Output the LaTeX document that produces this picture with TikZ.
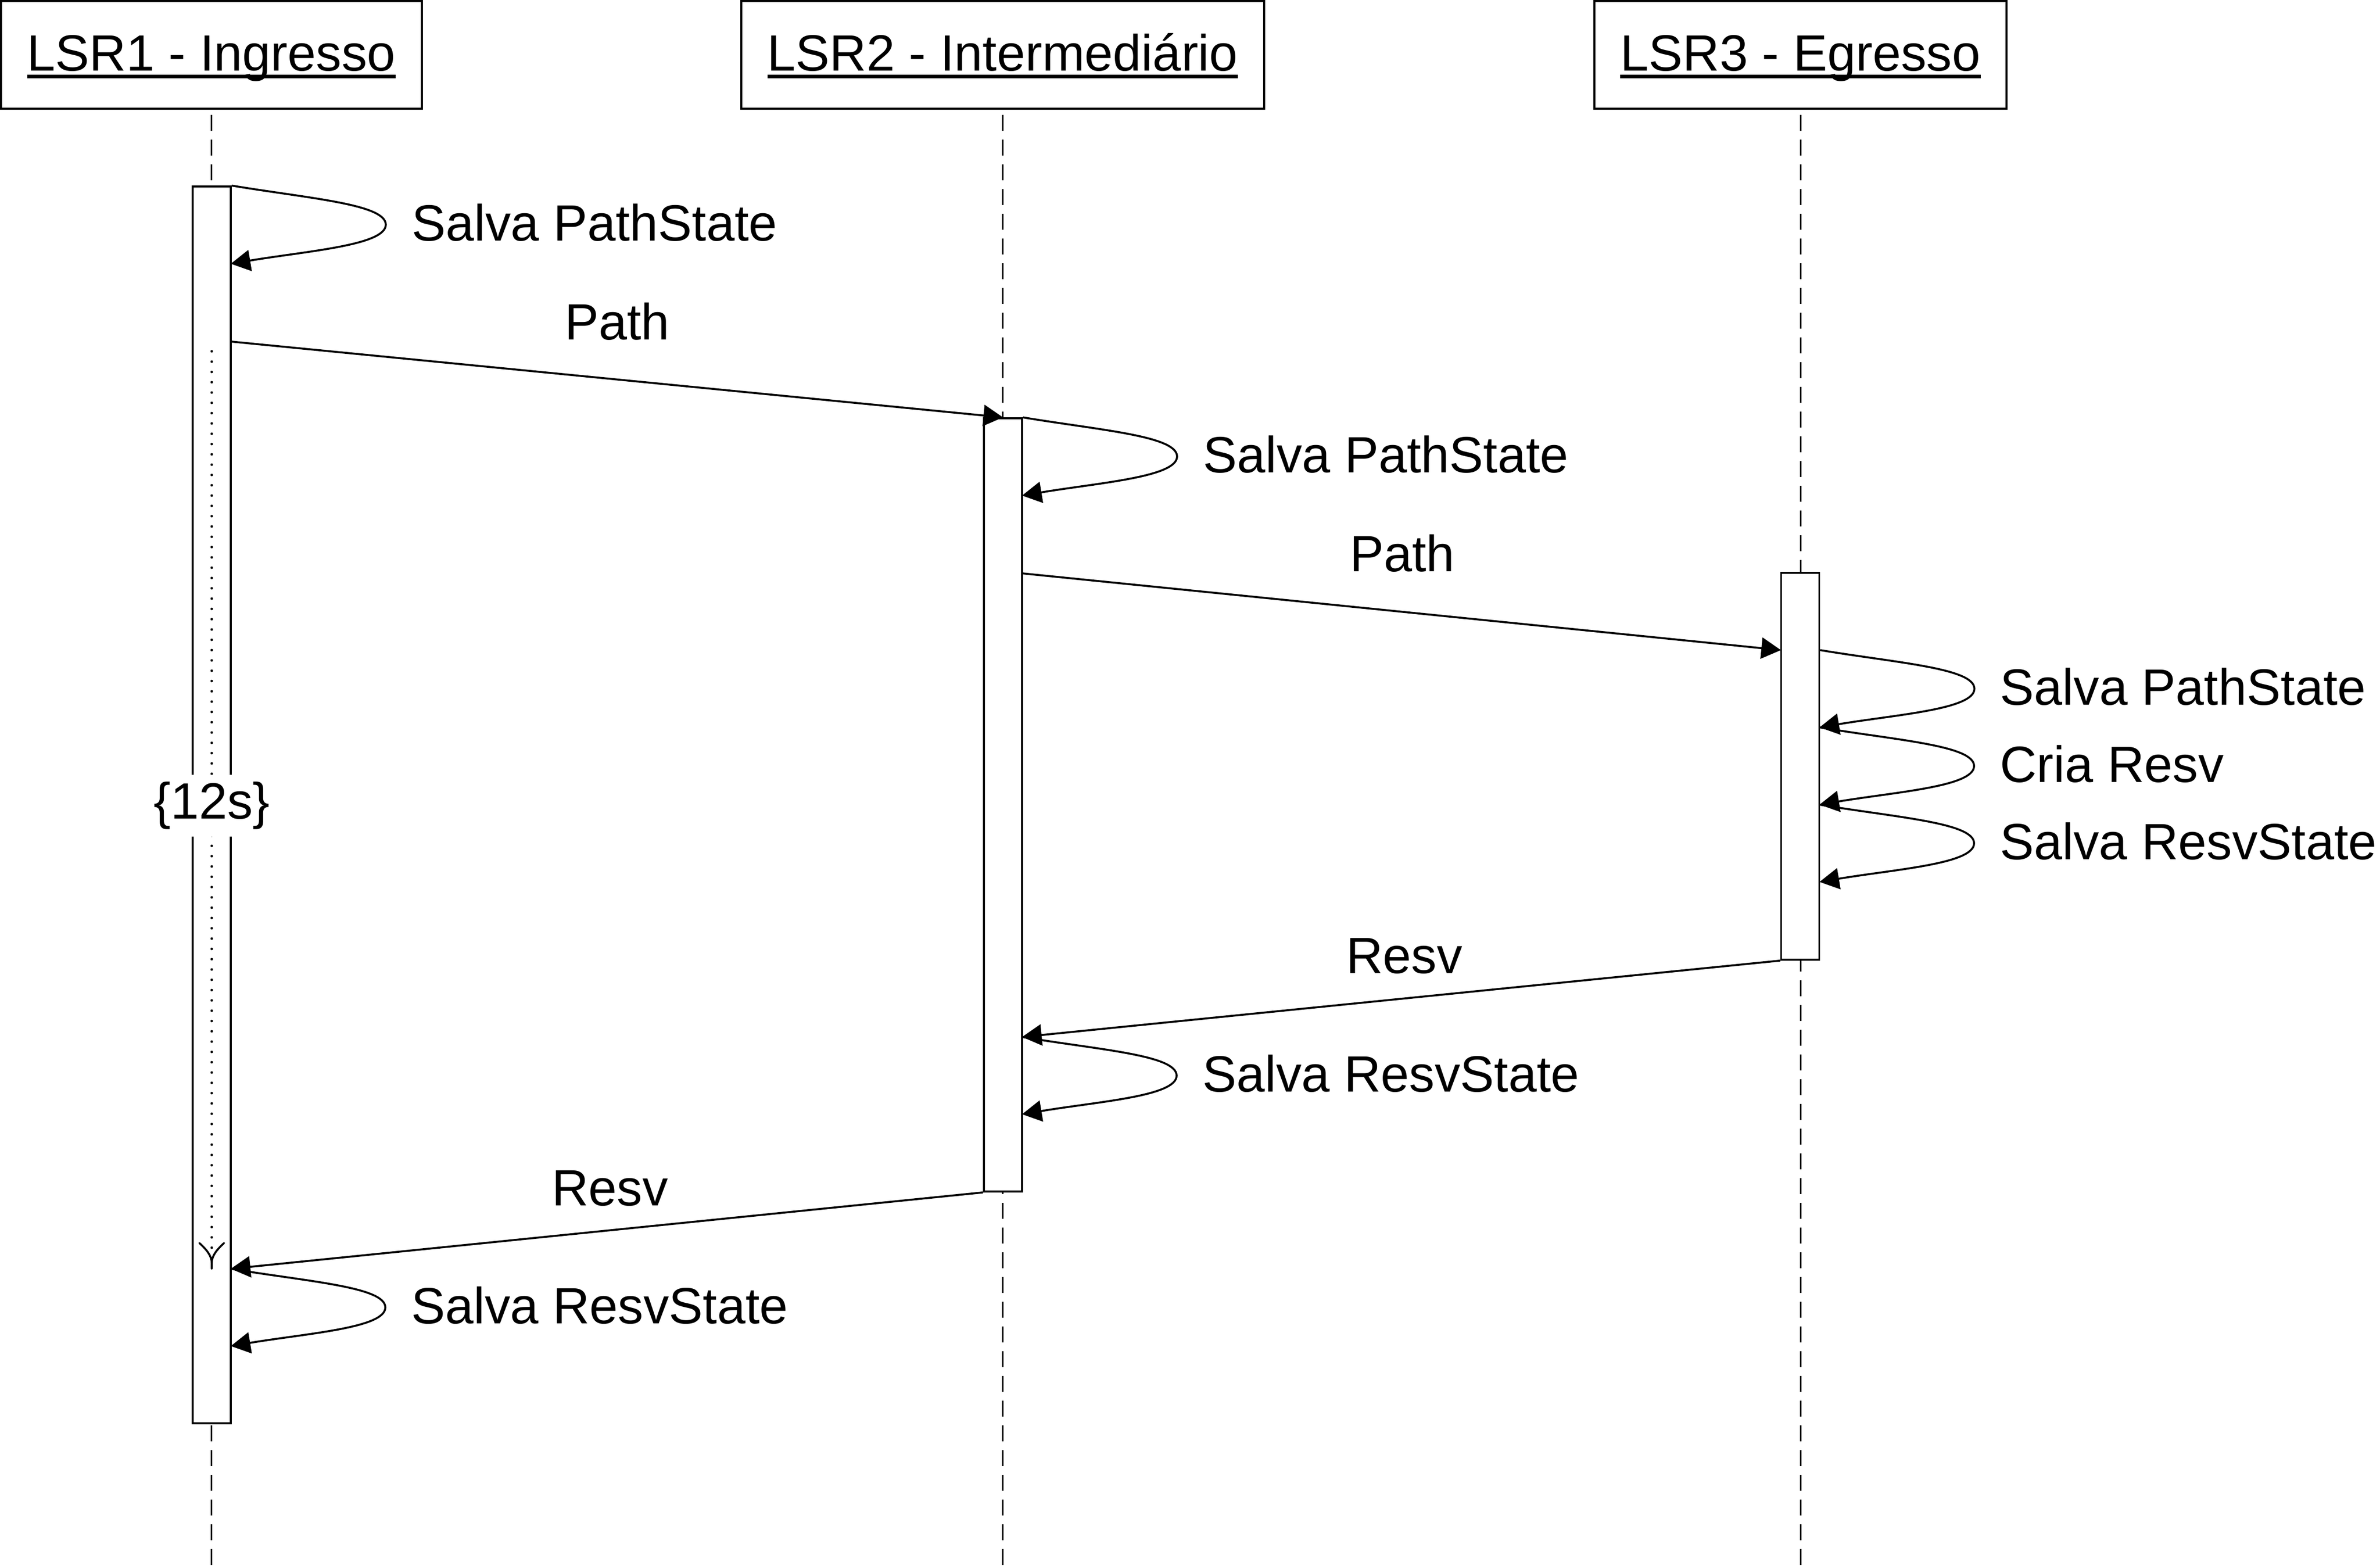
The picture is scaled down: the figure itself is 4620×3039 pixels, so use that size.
\documentclass[tikz,border=0pt]{standalone}
\usepackage{fontspec}
\setmainfont{Liberation Sans}
\usetikzlibrary{arrows.meta,calc}
\newcommand\dfont{\fontsize{99}{119}\selectfont}
\newcommand\myloop[4]{%
  \coordinate (#3tip) at ($(#1)!0.5!(#2)+(300,0)$);
  \draw[msg] (#1) .. controls +(150,25) and +(0,-40) .. (#3tip)
                  .. controls +(0,40) and +(150,-25) .. (#2);
  \node[lbl, anchor=base west] (#3lbl) at ([shift={(50,31)}]#3tip) {#4};
}
\begin{document}
\begin{tikzpicture}[x=1pt,y=-1pt,
  headbox/.style={draw, line width=4pt, inner sep=0pt, minimum height=209.5pt},
  headtext/.style={font=\dfont, inner sep=0pt, anchor=base},
  uline/.style={line width=7pt},
  lifeline/.style={line width=3pt, dash pattern=on 31pt off 17pt},
  actbox/.style={draw, fill=white, line width=3.5pt, minimum width=74pt, inner sep=0pt},
  msg/.style={line width=3.8pt, -{Triangle[length=38pt,width=41pt]}},
  lbl/.style={font=\dfont, inner sep=0pt},
  dotline/.style={line width=5pt, line cap=round, dash pattern=on 0pt off 20pt},
  opentip/.style={line width=3.8pt, line cap=round},
  dur/.style={font=\dfont, fill=white, inner xsep=4pt, inner ysep=13.5pt}
]
\fill[white] (0,0) rectangle (4620,3039);
\useasboundingbox (0,0) rectangle (4620,3039);

% headers
\node[headbox, minimum width=817pt] (h1) at (410.5,106.6) {};
\node[headbox, minimum width=1015pt] (h2) at (1946.5,106.6) {};
\node[headbox, minimum width=800pt] (h3) at (3495,106.6) {};

% lifelines
\coordinate (b1) at (410.5,3045);
\coordinate (b2) at (1946.5,3045);
\coordinate (b3) at (3495,3045);
\draw[lifeline, shorten <=10pt] (h1.south -| b1) -- (b1);
\draw[lifeline, shorten <=10pt] (h2.south -| b2) -- (b2);
\draw[lifeline, shorten <=10pt] (h3.south -| b3) -- (b3);

% header texts
\node[headtext] (t1) at (410.5,137) {LSR1 - Ingresso};
\node[headtext] (t2) at (1946.5,137) {LSR2 - Intermediário};
\node[headtext] (t3) at (3495,137) {LSR3 - Egresso};
\draw[uline] ([yshift=-11pt]t1.base west) -- ([yshift=-11pt]t1.base east);
\draw[uline] ([yshift=-11pt]t2.base west) -- ([yshift=-11pt]t2.base east);
\draw[uline] ([yshift=-11pt]t3.base west) -- ([yshift=-11pt]t3.base east);

% activation bars
\node[actbox, minimum height=2401pt] (a1) at (411,1562.5) {};
\node[actbox, minimum height=1501pt] (a2) at (1947,1562.5) {};
\node[actbox, minimum height=751pt] (a3) at (3494.5,1487.5) {};

% duration constraint
\coordinate (ds) at (411,682);
\coordinate (de) at (411,2425);
\coordinate (dtip) at (411,2463);
\coordinate (dbl) at (387,2413);
\coordinate (dbr) at (435,2413);
\draw[dotline] (ds) -- (de);
\draw[opentip] (dbl) .. controls (400,2425) and (411,2437) .. (411,2452) -- (dtip);
\draw[opentip] (dbr) .. controls (422,2425) and (411,2437) .. (411,2452);
\node[dur] (d12) at (411,1564) {\{12s\}};

% message points
\coordinate (m1s) at (448,663);
\coordinate (m2s) at (1984,1113);
\coordinate (m2e) at (3457,1262);
\coordinate (r1e) at (1984,2013);
\coordinate (r2e) at (448,2463);
\coordinate (L1e) at (448,512);
\coordinate (L2e) at (1984,962);
\coordinate (L3a) at (3532,1412);
\coordinate (L3b) at (3532,1562);
\coordinate (L3c) at (3532,1712);
\coordinate (L4e) at (1984,2163);
\coordinate (L5e) at (448,2613);

% messages
\draw[msg] (m1s) -- (a2.north);
\draw[msg] (m2s) -- (m2e);
\draw[msg] (a3.south west) -- (r1e);
\draw[msg] (a2.south west) -- (r2e);

\node[lbl, anchor=base] (p1) at (1198,659) {Path};
\node[lbl, anchor=base] (p2) at (2722,1109) {Path};
\node[lbl, anchor=base] (q1) at (2726,1889) {Resv};
\node[lbl, anchor=base] (q2) at (1184,2340) {Resv};

% self messages
\myloop{a1.north east}{L1e}{LA}{Salva PathState}
\myloop{a2.north east}{L2e}{LB}{Salva PathState}
\myloop{m2e -| a3.east}{L3a}{LC}{Salva PathState}
\myloop{L3a}{L3b}{LD}{Cria Resv}
\myloop{L3b}{L3c}{LE}{Salva ResvState}
\myloop{r1e}{L4e}{LF}{Salva ResvState}
\myloop{r2e}{L5e}{LG}{Salva ResvState}
\end{tikzpicture}
\end{document}
